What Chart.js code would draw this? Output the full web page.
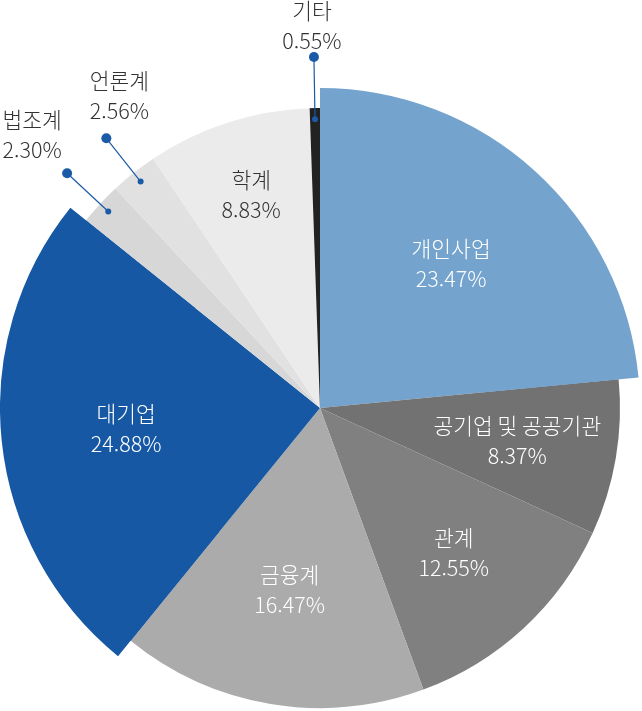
<!DOCTYPE html>
<html lang="ko">
<head>
<meta charset="UTF-8">
<meta name="viewport" content="width=device-width, initial-scale=1.0">
<title>진출 분야 비율</title>
<script src="https://cdn.jsdelivr.net/npm/chart.js"></script>
<style>
    html, body { margin: 0; padding: 0; background: #fff; overflow: hidden; }
    .wrap { position: absolute; left: 0; top: 0; width: 642px; height: 728px; }
</style>
</head>
<body>
<div class="wrap"><canvas id="pieChart"></canvas></div>
<script>
const labels = ['개인사업', '공기업 및 공공기관', '관계', '금융계', '대기업', '법조계', '언론계', '학계', '기타'];
const shares = [23.47, 8.37, 12.55, 16.47, 24.88, 2.30, 2.56, 8.83, 0.55];
const highlighted = ['개인사업', '대기업'];
const colors = ['#74a4cd', '#727272', '#808080', '#ababab', '#1658a4', '#d7d7d7', '#e1e1e1', '#ebebeb', '#222222'];

// where each label goes: r = share of the pie radius, callout = dot distance, dx/dy = text offset from dot
const labelSpots = [
    { r: 0.65, color: '#fff' },
    { r: 0.667, color: '#fff' },
    { r: 0.657, color: '#fff' },
    { r: 0.613, color: '#fff' },
    { r: 0.65, color: '#fff' },
    { callout: 1.15, dx: -35, dy: -38 },
    { callout: 1.147, dx: 13, dy: -42 },
    { r: 0.747, color: '#333' },
    { callout: 1.17, dx: -2, dy: -31 }
];

const FONT = '300 21.5px "Noto Sans CJK KR", "Noto Sans", sans-serif';
const LINE_GAP = 30;
const CALLOUT_BLUE = '#1a5aa6';

const sliceLabels = {
    id: 'sliceLabels',
    afterDatasetsDraw(chart) {
        const ctx = chart.ctx;
        const meta = chart.getDatasetMeta(1);
        ctx.save();
        ctx.font = FONT;
        ctx.textAlign = 'center';
        ctx.textBaseline = 'middle';
        meta.data.forEach((arc, i) => {
            const spot = labelSpots[i];
            const { x, y, startAngle, endAngle, outerRadius } = arc.getProps(['x', 'y', 'startAngle', 'endAngle', 'outerRadius'], true);
            const mid = (startAngle + endAngle) / 2;
            const txt = shares[i].toFixed(2) + '%';
            let cx, cy, color;
            if (spot.callout) {
                const ix = x + Math.cos(mid) * outerRadius * 0.963;
                const iy = y + Math.sin(mid) * outerRadius * 0.963;
                const ox = x + Math.cos(mid) * outerRadius * spot.callout;
                const oy = y + Math.sin(mid) * outerRadius * spot.callout;
                ctx.strokeStyle = CALLOUT_BLUE;
                ctx.lineWidth = 1.2;
                ctx.beginPath();
                ctx.moveTo(ox, oy);
                ctx.lineTo(ix, iy);
                ctx.stroke();
                ctx.fillStyle = CALLOUT_BLUE;
                ctx.beginPath(); ctx.arc(ox, oy, 5, 0, Math.PI * 2); ctx.fill();
                ctx.beginPath(); ctx.arc(ix, iy, 3, 0, Math.PI * 2); ctx.fill();
                cx = ox + spot.dx;
                cy = oy + spot.dy;
                color = '#333';
            } else {
                cx = x + Math.cos(mid) * outerRadius * spot.r;
                cy = y + Math.sin(mid) * outerRadius * spot.r;
                color = spot.color;
            }
            ctx.fillStyle = color;
            ctx.fillText(labels[i], cx, cy - LINE_GAP / 2);
            ctx.fillText(txt, cx, cy + LINE_GAP / 2);
        });
        ctx.restore();
    }
};

const ringColors = labels.map((l, i) => highlighted.includes(l) ? colors[i] : 'rgba(0,0,0,0)');

new Chart(document.getElementById('pieChart'), {
    type: 'pie',
    data: {
        labels: labels,
        datasets: [
            // wide ring drawn on top: only the two big slices reach out to 320px
            { data: shares, backgroundColor: ringColors, borderWidth: 0, radius: 320, weight: 1 },
            // full pie underneath, ends up 300px
            { data: shares, backgroundColor: colors, borderWidth: 0, radius: 600, weight: 1 }
        ]
    },
    options: {
        responsive: true,
        maintainAspectRatio: false,
        animation: false,
        layout: { padding: { top: 88, right: 2, left: 0, bottom: 0 } },
        plugins: { legend: { display: false }, tooltip: { enabled: false } }
    },
    plugins: [sliceLabels]
});
</script>
</body>
</html>
